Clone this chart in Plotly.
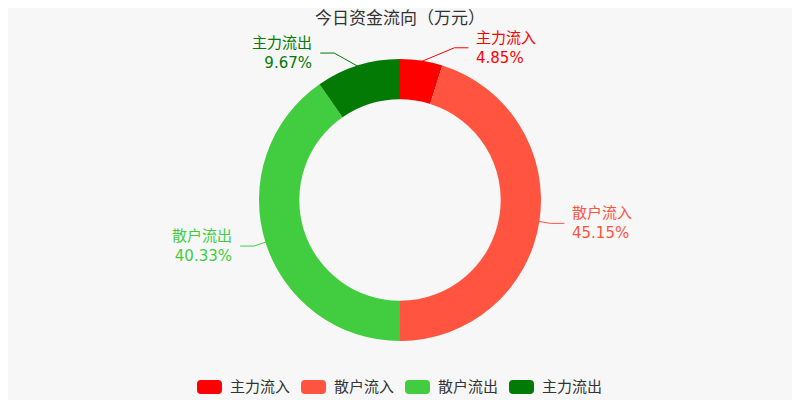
import math
import plotly.graph_objects as go

# 今日资金流向 (share of total, %)
labels = ["主力流入", "散户流入", "散户流出", "主力流出"]
values = [4.85, 45.15, 40.33, 9.67]
colors = ["#ff0000", "#ff5540", "#41cd3f", "#037a04"]

# the page puts the figure 8px in from the top-left corner
OFF = 8
W, H = 800 - OFF, 400 - OFF
ml, mr, mt, mb = 0, 8, 51, 59
pw, ph = W - ml - mr, H - mt - mb

# pie geometry in window pixels
cx, cy = 400, 200
r_out, r_in = 140, 100


def to_paper(x, y):
    fx, fy = x - OFF, y - OFF
    return (fx - ml) / pw, (H - mb - fy) / ph


fig = go.Figure(go.Pie(
    labels=labels, values=values, hole=r_in / r_out, sort=False,
    direction="clockwise", rotation=0,
    marker=dict(colors=colors, line=dict(width=0)),
    textinfo="none", hoverinfo="label+percent", showlegend=False,
))

# outside labels with two-part leader lines (elbows sit on an ellipse)
len1, len2 = 12, 14
rA, rB = r_out + len1, 163
total = sum(values)
cum = 0
for lab, val, col in zip(labels, values, colors):
    mid = (cum + val / 2) / total * 2 * math.pi
    cum += val
    sx, sy = math.sin(mid), -math.cos(mid)
    side = 1 if sx >= 0 else -1
    p0 = (cx + r_out * sx, cy + r_out * sy)
    ey = cy + (r_out + 14) * sy
    dy = abs(ey - cy)
    ex = cx + side * rA * math.sqrt(max(0.0, 1 - dy * dy / (rB * rB)))
    p1 = (ex, ey)
    p2 = (ex + side * len2, ey)
    pts = [to_paper(*p) for p in (p0, p1, p2)]
    path = "M{},{} L{},{} L{},{}".format(*[v for p in pts for v in p])
    fig.add_shape(type="path", path=path, xref="paper", yref="paper",
                  line=dict(color=col, width=1))
    tx, ty = to_paper(p2[0] + side * 6, p2[1])
    fig.add_annotation(
        x=tx, y=ty, xref="paper", yref="paper", showarrow=False,
        text=f"{lab}<br>{val:.2f}%", align="left" if side > 0 else "right",
        xanchor="left" if side > 0 else "right", yanchor="middle",
        font=dict(size=15, color=col),
    )

# legend: rounded colour keys + names along the bottom
leg_x, leg_y, leg_step = 197, 387, 104
kw, kh, rr = 25, 14, 4
for i, (lab, col) in enumerate(zip(labels, colors)):
    x0 = leg_x + i * leg_step
    x1, y0, y1 = x0 + kw, leg_y - kh / 2, leg_y + kh / 2
    c = [to_paper(x, y) for x, y in [
        (x0 + rr, y0), (x1 - rr, y0), (x1, y0), (x1, y0 + rr),
        (x1, y1 - rr), (x1, y1), (x1 - rr, y1), (x0 + rr, y1),
        (x0, y1), (x0, y1 - rr), (x0, y0 + rr), (x0, y0)]]
    path = ("M{0[0]},{0[1]} L{1[0]},{1[1]} Q{2[0]},{2[1]} {3[0]},{3[1]} "
            "L{4[0]},{4[1]} Q{5[0]},{5[1]} {6[0]},{6[1]} L{7[0]},{7[1]} "
            "Q{8[0]},{8[1]} {9[0]},{9[1]} L{10[0]},{10[1]} "
            "Q{11[0]},{11[1]} {0[0]},{0[1]} Z").format(*c)
    fig.add_shape(type="path", path=path, xref="paper", yref="paper",
                  fillcolor=col, line=dict(width=0))
    tx, ty = to_paper(x1 + 6, leg_y)
    fig.add_annotation(x=tx, y=ty, xref="paper", yref="paper",
                       showarrow=False, text=lab, xanchor="left",
                       yanchor="middle", font=dict(size=15, color="#333333"))

# title sits just below the figure's top edge so it is not clipped
title_y = 18
fig.update_layout(
    width=W, height=H,
    margin=dict(l=ml, r=mr, t=mt, b=mb),
    paper_bgcolor="#f7f7f7", plot_bgcolor="#f7f7f7",
    font=dict(family="DejaVu Sans, Noto Sans CJK SC", size=14, color="#333333"),
    title=dict(text="今日资金流向（万元）", xref="container", yref="container",
               x=(cx - OFF) / W, xanchor="center",
               y=1 - (title_y - OFF) / H, yanchor="middle",
               font=dict(size=17, color="#333333")),
    showlegend=False,
)

fig.write_html("out.html")
